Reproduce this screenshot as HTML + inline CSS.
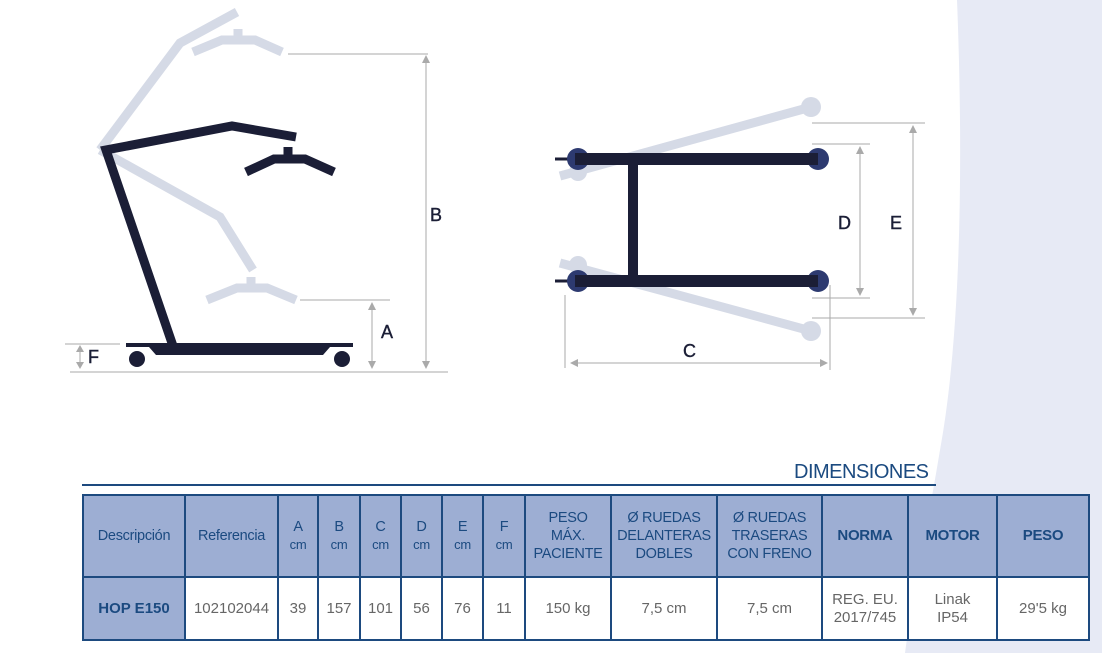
<!DOCTYPE html>
<html><head><meta charset="utf-8"><style>
body{margin:0;width:1102px;height:653px;overflow:hidden;background:#fff;font-family:"Liberation Sans",sans-serif;position:relative}
svg{position:absolute;left:0;top:0}
table{position:absolute;left:82px;top:494px;border-collapse:collapse;table-layout:fixed}
td{border:2px solid #1d4a7f;text-align:center;vertical-align:middle;padding:0;font-size:15px;line-height:18px}
tr.h td{background:#9daed3;color:#1b4a80;height:80px;font-size:14.5px;letter-spacing:-0.3px}
tr.h td.b{font-weight:bold;font-size:15px}
tr.d td{background:#fff;color:#666;height:61px}
td small{font-size:13px}
</style></head><body>
<svg width="1102" height="653" viewBox="0 0 1102 653">
<path d="M957,0 C963,150 962,330 940,450 C925,540 912,600 905,653 L1102,653 L1102,0 Z" fill="#e7eaf5"/>
<g fill="none" stroke="#d5dae6" stroke-width="9" stroke-linejoin="miter">
<polyline points="100,150 180,43 237,12"/>
<polyline points="193,52 222,40 255,40 282,52"/>
<line x1="238" y1="29" x2="238" y2="40"/>
<polyline points="100,150 220,217 253,270"/>
<polyline points="207,300 237,288 267,288 296,300"/>
<line x1="251" y1="277" x2="251" y2="288"/>
<line x1="560" y1="176" x2="811" y2="107"/>
<line x1="560" y1="263" x2="811" y2="331"/>
</g>
<g fill="#d5dae6"><circle cx="811" cy="107" r="10"/><circle cx="811" cy="331" r="10"/><circle cx="578" cy="172" r="9"/><circle cx="578" cy="265" r="9"/></g>
<g fill="none" stroke="#1b1e36" stroke-width="9">
<polyline points="173,346 106,150 232,126 296,137"/>
<polyline points="246,172 274,159 305,159 334,172"/>
<line x1="288" y1="147" x2="288" y2="159"/>
</g>
<path d="M126,343 L353,343 L353,347 L330,347 L323,355 L156,355 L149,347 L126,347 Z" fill="#1b1e36"/>
<circle cx="137" cy="359" r="8" fill="#1b1e36"/><circle cx="342" cy="359" r="8" fill="#1b1e36"/>
<g stroke="#aaa" stroke-width="1" fill="none">
<line x1="70" y1="372" x2="448" y2="372"/>
<line x1="65" y1="344" x2="120" y2="344"/>
<line x1="80" y1="348" x2="80" y2="366"/>
<line x1="300" y1="300" x2="390" y2="300"/>
<line x1="372" y1="304" x2="372" y2="366"/>
<line x1="288" y1="54" x2="428" y2="54"/>
<line x1="426" y1="58" x2="426" y2="366"/>
<line x1="812" y1="144" x2="870" y2="144"/><line x1="812" y1="298" x2="870" y2="298"/>
<line x1="860" y1="148" x2="860" y2="294"/>
<line x1="812" y1="123" x2="925" y2="123"/><line x1="812" y1="318" x2="925" y2="318"/>
<line x1="913" y1="127" x2="913" y2="314"/>
<line x1="565" y1="295" x2="565" y2="368"/><line x1="830" y1="285" x2="830" y2="370"/>
<line x1="573" y1="363" x2="825" y2="363"/>
</g>
<g fill="#aaa">
<path d="M80,345 l-4,7 h8z"/><path d="M80,369 l-4,-7 h8z"/>
<path d="M372,302 l-4,8 h8z"/><path d="M372,369 l-4,-8 h8z"/>
<path d="M426,55 l-4,8 h8z"/><path d="M426,369 l-4,-8 h8z"/>
<path d="M860,146 l-4,8 h8z"/><path d="M860,296 l-4,-8 h8z"/>
<path d="M913,125 l-4,8 h8z"/><path d="M913,316 l-4,-8 h8z"/>
<path d="M570,363 l8,-4 v8z"/><path d="M828,363 l-8,-4 v8z"/>
</g>
<g fill="#1b1e36" font-family="Liberation Sans" font-size="18" stroke="#1b1e36" stroke-width="0.4">
<text x="88" y="363">F</text><text x="381" y="338">A</text><text x="430" y="221">B</text>
<text x="838" y="229">D</text><text x="890" y="229">E</text><text x="683" y="357">C</text>
</g>
<line x1="555" y1="159" x2="575" y2="159" stroke="#1b1e36" stroke-width="3"/>
<line x1="555" y1="281" x2="575" y2="281" stroke="#1b1e36" stroke-width="3"/>
<g fill="#2d3a70"><circle cx="578" cy="159" r="11"/><circle cx="818" cy="159" r="11"/><circle cx="578" cy="281" r="11"/><circle cx="818" cy="281" r="11"/></g>
<g fill="#1b1e36"><rect x="575" y="153" width="243" height="12"/><rect x="575" y="275" width="243" height="12"/><rect x="628" y="159" width="10" height="122"/></g>
<line x1="82" y1="485" x2="936" y2="485" stroke="#1d4a7f" stroke-width="2"/>
<text x="794" y="478" fill="#1b4a80" font-size="20" font-family="Liberation Sans" letter-spacing="-0.5">DIMENSIONES</text>
</svg>
<table>
<colgroup><col style="width:102px"><col style="width:93px"><col style="width:40px"><col style="width:42px"><col style="width:41px"><col style="width:41px"><col style="width:41px"><col style="width:42px"><col style="width:86px"><col style="width:106px"><col style="width:105px"><col style="width:86px"><col style="width:89px"><col style="width:92px"></colgroup>
<tr class="h"><td>Descripción</td><td>Referencia</td><td>A<br><small>cm</small></td><td>B<br><small>cm</small></td><td>C<br><small>cm</small></td><td>D<br><small>cm</small></td><td>E<br><small>cm</small></td><td>F<br><small>cm</small></td><td>PESO<br>MÁX.<br>PACIENTE</td><td>Ø RUEDAS<br>DELANTERAS<br>DOBLES</td><td>Ø RUEDAS<br>TRASERAS<br>CON FRENO</td><td class="b">NORMA</td><td class="b">MOTOR</td><td class="b">PESO</td></tr>
<tr class="d"><td style="background:#9daed3;color:#1b4a80;font-weight:bold">HOP E150</td><td>102102044</td><td>39</td><td>157</td><td>101</td><td>56</td><td>76</td><td>11</td><td>150 kg</td><td>7,5 cm</td><td>7,5 cm</td><td>REG. EU.<br>2017/745</td><td>Linak<br>IP54</td><td>29'5 kg</td></tr>
</table>
</body></html>
